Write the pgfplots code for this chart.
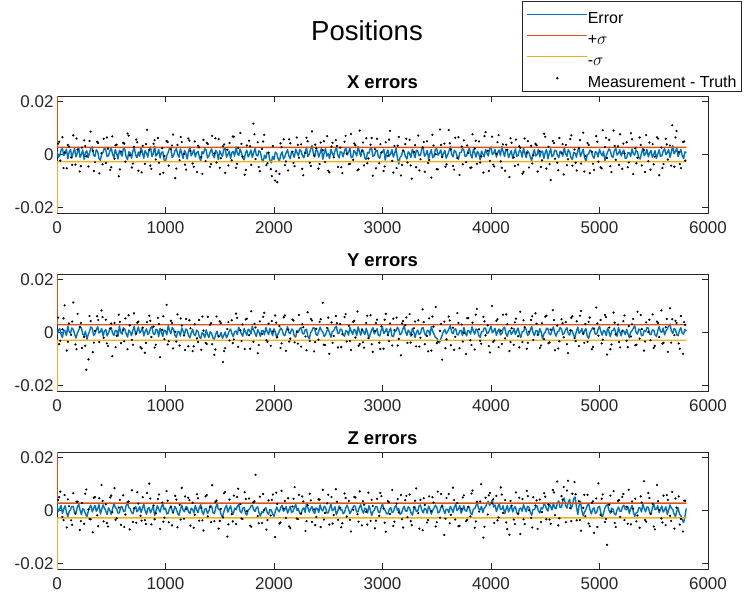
\documentclass[border=0pt]{standalone}
\usepackage{pgfplots}
\pgfplotsset{compat=1.18}
\usepackage{fontspec}
\setmainfont{Liberation Sans}
\definecolor{mblue}{rgb}{0,0.447,0.741}
\definecolor{morange}{rgb}{0.85,0.325,0.098}
\definecolor{myellow}{rgb}{0.929,0.694,0.125}
\definecolor{maxis}{rgb}{0.15,0.15,0.15}
\pgfplotsset{
 sub/.style={
  at={(57pt,#1)}, anchor=south west, scale only axis, width=651pt, height=117pt,
  xmin=0, xmax=6000, ymin=-22, ymax=22,
  xtick={0,1000,2000,3000,4000,5000,6000}, ytick={-20,0,20}, yticklabels={-0.02,0,0.02},
  tick align=inside, major tick length=6pt,
  axis line style={maxis, line width=0.6pt}, tick style={maxis, line width=0.6pt},
  ticklabel style={font=\fontsize{17}{19}\selectfont, text=maxis},
  /pgf/number format/assume math mode=true,
  /pgf/number format/set thousands separator={},
  scaled ticks=false,
  xticklabel style={yshift=-5pt},
  every axis title/.style={at={(0.5,1)}, anchor=base, yshift=7.7pt, font=\bfseries\fontsize{18.5}{21}\selectfont},
 },
 legimg/.style={legend image code/.code={\draw[mark repeat=2,mark phase=2,##1] plot coordinates {(0pt,0pt)(30pt,0pt)(60pt,0pt)};}},
}
\begin{document}
\begin{tikzpicture}
\path[use as bounding box] (0pt,0pt) rectangle (748pt,598pt);
\node[anchor=base, font=\fontsize{27.5}{30}\selectfont, text=black] at (367pt,557pt) {Positions};
% ---------------- X ----------------
\begin{axis}[sub=385pt, title={X errors}]
\addplot[color=mblue, line width=1.4pt, line join=round] coordinates {
(0,1.2)(12,-1.0)(25,-0.5)(37,1.6)(50,2.3)(62,-0.4)(75,0.4)(87,2.0)(100,-1.6)(112,0.9)(125,1.9)(137,-1.3)(150,0.8)(162,2.2)(175,-0.9)(187,0.5)(200,2.7)(212,-1.1)(225,0.1)(237,1.7)
(250,-1.8)(262,0.6)(275,1.4)(287,-1.2)(300,0.6)(312,2.4)(325,2.9)(337,-0.3)(350,-0.7)(362,1.8)(375,1.1)(387,-1.5)(400,-2.2)(412,0.2)(425,0.9)(437,2.5)(450,1.7)(462,-0.8)(475,-0.4)(487,1.3)
(500,2.4)(512,0.1)(525,-1.1)(537,1.9)(550,0.3)(562,-1.7)(575,1.6)(587,0.4)(600,-0.6)(612,2.3)(625,2.0)(637,-0.9)(650,-1.9)(662,1.0)(675,0.7)(687,-1.4)(700,1.3)(712,2.6)(725,-0.2)(737,-1.2)
(750,0.9)(762,-0.7)(775,2.6)(787,0.8)(800,-1.4)(812,1.5)(825,0.5)(837,-1.0)(850,1.8)(862,2.8)(875,-0.8)(887,0.3)(900,3.1)(912,-0.6)(925,0.2)(937,1.9)(950,-1.3)(962,0.7)(975,1.0)(987,-2.0)
(1000,-2.6)(1012,-0.4)(1025,0.8)(1037,2.4)(1050,1.9)(1062,-1.1)(1075,-0.3)(1087,1.4)(1100,2.2)(1112,0.0)(1125,-1.0)(1137,2.1)(1150,0.4)(1162,-1.5)(1175,1.5)(1187,0.6)(1200,-1.7)(1212,1.2)(1225,2.8)(1237,-0.5)
(1250,0.6)(1262,1.8)(1275,-0.9)(1287,0.7)(1300,1.2)(1312,-0.8)(1325,-2.4)(1337,1.1)(1350,0.3)(1362,2.2)(1375,1.7)(1387,-1.3)(1400,-0.5)(1412,0.9)(1425,2.1)(1437,-0.2)(1450,-1.2)(1462,1.6)(1475,0.8)(1487,-1.9)
(1500,1.4)(1512,0.2)(1525,-0.7)(1537,1.9)(1550,2.5)(1562,-1.0)(1575,0.0)(1587,1.3)(1600,-1.5)(1612,0.8)(1625,1.1)(1637,-0.6)(1650,2.9)(1662,0.4)(1675,-0.4)(1687,2.0)(1700,0.7)(1712,-1.3)(1725,-2.0)(1737,0.5)
(1750,1.6)(1762,-0.9)(1775,0.2)(1787,1.7)(1800,-1.1)(1812,0.6)(1825,2.3)(1837,-0.2)(1850,-0.6)(1862,1.4)(1875,0.9)(1887,-1.8)(1900,-2.8)(1912,-0.3)(1925,-1.4)(1937,0.8)(1950,0.5)(1962,-2.1)(1975,-3.2)(1987,-0.7)
(2000,-1.9)(2012,0.9)(2025,0.4)(2037,-1.4)(2050,-2.5)(2062,-0.2)(2075,1.0)(2087,-1.7)(2100,-0.8)(2112,0.6)(2125,1.8)(2137,-0.5)(2150,-1.6)(2162,1.2)(2175,0.3)(2187,-1.1)(2200,2.0)(2212,0.7)(2225,-0.5)(2237,1.9)
(2250,1.3)(2262,-0.4)(2275,-1.2)(2287,1.0)(2300,2.6)(2312,-0.8)(2325,0.1)(2337,2.0)(2350,3.4)(2362,0.6)(2375,-0.9)(2387,1.7)(2400,1.5)(2412,-1.0)(2425,0.6)(2437,2.3)(2450,-1.8)(2462,0.4)(2475,2.2)(2487,-0.6)
(2500,0.3)(2512,-1.5)(2525,1.9)(2537,0.5)(2550,-0.6)(2562,1.4)(2575,2.7)(2587,-0.1)(2600,-1.3)(2612,1.1)(2625,0.8)(2637,-0.9)(2650,1.4)(2662,2.5)(2675,-0.2)(2687,0.9)(2700,2.4)(2712,-1.2)(2725,-1.0)(2737,1.5)
(2750,0.7)(2762,-0.5)(2775,3.0)(2787,1.1)(2800,-0.8)(2812,1.9)(2825,1.2)(2837,-1.3)(2850,-1.9)(2862,0.8)(2875,0.5)(2887,2.2)(2900,2.1)(2912,-0.7)(2925,-0.4)(2937,1.3)(2950,1.6)(2962,-0.9)(2975,-1.4)(2987,0.6)
(3000,0.9)(3012,2.0)(3025,-2.1)(3037,0.3)(3050,1.7)(3062,-0.6)(3075,0.2)(3087,1.8)(3100,-1.0)(3112,0.5)(3125,2.3)(3137,-1.2)(3150,-3.6)(3162,-1.0)(3175,-0.5)(3187,1.4)(3200,1.1)(3212,-0.8)(3225,-1.7)(3237,1.0)
(3250,0.4)(3262,-1.1)(3275,2.0)(3287,0.6)(3300,-1.2)(3312,1.6)(3325,1.3)(3337,-0.5)(3350,-0.3)(3362,2.2)(3375,2.6)(3387,-0.7)(3400,0.1)(3412,1.5)(3425,-1.6)(3437,0.3)(3450,1.8)(3462,-1.2)(3475,-0.7)(3487,1.9)
(3500,2.2)(3512,-0.3)(3525,0.6)(3537,1.7)(3550,-1.1)(3562,0.4)(3575,1.5)(3587,-1.4)(3600,-0.2)(3612,1.2)(3625,2.9)(3637,0.1)(3650,-0.9)(3662,1.6)(3675,1.0)(3687,-0.6)(3700,-1.8)(3712,0.7)(3725,0.8)(3737,2.3)
(3750,1.6)(3762,-0.8)(3775,-0.4)(3787,1.1)(3800,2.4)(3812,0.0)(3825,-1.3)(3837,1.8)(3850,0.7)(3862,-1.0)(3875,1.2)(3887,0.4)(3900,-2.0)(3912,1.3)(3925,0.3)(3937,-0.9)(3950,1.9)(3962,0.6)(3975,-0.6)(3987,2.1)
(4000,2.8)(4012,0.0)(4025,0.5)(4037,1.9)(4050,-1.0)(4062,0.8)(4075,1.7)(4087,-0.5)(4100,3.0)(4112,1.1)(4125,-0.8)(4137,2.0)(4150,1.4)(4162,-1.2)(4175,0.2)(4187,1.5)(4200,-1.5)(4212,0.3)(4225,2.1)(4237,-0.7)
(4250,-0.3)(4262,1.7)(4275,1.1)(4287,-1.0)(4300,2.5)(4312,0.5)(4325,-1.2)(4337,1.4)(4350,0.6)(4362,-0.9)(4375,-2.3)(4387,0.2)(4400,1.8)(4412,-0.6)(4425,0.0)(4437,2.0)(4450,-0.9)(4462,0.8)(4475,1.3)(4487,-1.5)
(4500,0.8)(4512,1.9)(4525,-1.6)(4537,0.4)(4550,2.2)(4562,-0.8)(4575,-0.4)(4587,1.6)(4600,1.5)(4612,-0.3)(4625,-1.1)(4637,1.2)(4650,0.9)(4662,-0.7)(4675,2.7)(4687,0.3)(4700,-0.7)(4712,1.8)(4725,1.0)(4737,-1.2)
(4750,-1.9)(4762,0.8)(4775,0.5)(4787,-1.0)(4800,1.6)(4812,2.3)(4825,-0.8)(4837,0.6)(4850,2.0)(4862,-1.1)(4875,-2.6)(4887,0.0)(4900,0.2)(4912,1.7)(4925,1.2)(4937,-0.6)(4950,-1.4)(4962,1.1)(4975,0.7)(4987,-0.9)
(5000,1.9)(5012,0.5)(5025,-0.5)(5037,1.2)(5050,-2.4)(5062,-0.4)(5075,0.9)(5087,2.1)(5100,1.4)(5112,-0.7)(5125,-1.0)(5137,1.5)(5150,2.3)(5162,-0.2)(5175,0.4)(5187,1.8)(5200,-0.6)(5212,0.9)(5225,1.7)(5237,-1.5)
(5250,-1.3)(5262,0.7)(5275,0.6)(5287,-0.8)(5300,2.1)(5312,0.3)(5325,-0.2)(5337,1.6)(5350,1.0)(5362,-1.2)(5375,-1.7)(5387,0.5)(5400,2.6)(5412,-0.4)(5425,0.3)(5437,1.9)(5450,-0.9)(5462,0.6)(5475,1.5)(5487,-1.1)
(5500,0.1)(5512,1.4)(5525,-1.4)(5537,0.2)(5550,1.8)(5562,-0.7)(5575,-0.5)(5587,1.3)(5600,2.2)(5612,-0.1)(5625,0.7)(5637,1.9)(5650,-1.1)(5662,0.9)(5675,3.3)(5687,0.2)(5700,1.2)(5712,2.4)(5725,-0.8)(5737,0.6)
(5750,1.9)(5762,-0.3)(5775,-1.6)(5787,1.0)(5800,0.6)};
\addplot[color=morange, line width=1.4pt] coordinates {(0,30)(3,2.7)(5800,2.7)};
\addplot[color=myellow, line width=1.4pt] coordinates {(0,-30)(3,-2.7)(5800,-2.7)};
\addplot[only marks, mark=*, mark size=0.9pt, color=black] coordinates {
(10,4.1)(30,-2.3)(50,6.5)(70,0.8)(90,-5.2)(110,3.0)(130,-1.1)(150,7.2)(170,-3.8)(190,1.9)
(210,-6.4)(230,2.6)(250,5.3)(270,-0.7)(290,-4.5)(310,8.6)(330,1.4)(350,-2.9)(370,4.8)(390,-7.1)
(410,0.5)(430,5.9)(450,-3.2)(470,2.2)(490,-5.8)(510,6.8)(530,-1.6)(550,3.7)(570,-8.2)(590,1.1)
(610,4.4)(630,-2.7)(650,7.9)(670,-0.3)(690,-4.9)(710,2.9)(730,5.6)(750,-6.1)(770,0.9)(790,3.3)
(810,-3.5)(830,9.3)(850,1.7)(870,-5.4)(890,4.0)(910,-1.9)(930,6.2)(950,-7.4)(970,2.4)(990,-0.6)
(1010,5.1)(1030,-4.2)(1050,2.0)(1070,7.5)(1090,-8.9)(1110,3.6)(1130,-2.1)(1150,4.7)(1170,0.2)(1190,-5.7)
(1210,6.0)(1230,1.3)(1250,-3.4)(1270,4.9)(1290,-6.6)(1310,2.7)(1330,-0.9)(1350,5.5)(1370,-2.5)(1390,3.9)
(1410,-4.6)(1430,7.0)(1450,0.4)(1470,-3.0)(1490,5.8)(1510,-1.4)(1530,3.1)(1550,-6.9)(1570,1.8)(1590,4.3)
(1610,-2.2)(1630,6.7)(1650,-5.0)(1670,2.5)(1690,8.1)(1710,-0.8)(1730,-7.6)(1750,3.4)(1770,5.2)(1790,-3.9)
(1810,11.6)(1830,-1.7)(1850,4.6)(1870,-6.3)(1890,2.1)(1910,7.4)(1930,-4.0)(1950,0.7)(1970,-5.5)(1990,3.2)
(2010,-9.8)(2030,-10.4)(2050,-7.3)(2070,2.8)(2090,5.7)(2110,-2.6)(2130,-6.0)(2150,4.2)(2170,1.0)(2190,-4.4)
(2210,6.4)(2230,-1.2)(2250,3.8)(2270,-7.8)(2290,0.6)(2310,5.0)(2330,-3.1)(2350,8.7)(2370,-0.4)(2390,2.3)
(2410,-5.3)(2430,4.5)(2450,1.6)(2470,-2.8)(2490,6.9)(2510,-6.7)(2530,3.0)(2550,-1.0)(2570,5.4)(2590,-4.7)
(2610,2.6)(2630,-7.0)(2650,4.8)(2670,0.3)(2690,-3.6)(2710,7.7)(2730,-2.0)(2750,3.5)(2770,-5.9)(2790,9.0)
(2810,1.2)(2830,-4.1)(2850,6.1)(2870,-1.5)(2890,3.7)(2910,-8.0)(2930,2.0)(2950,5.9)(2970,-3.3)(2990,0.8)
(3010,-6.2)(3030,4.6)(3050,-0.5)(3070,8.9)(3090,-2.4)(3110,3.2)(3130,-5.1)(3150,6.6)(3170,-7.9)(3190,1.5)
(3210,3.9)(3230,-3.0)(3250,5.5)(3270,-9.1)(3290,0.9)(3310,-4.8)(3330,7.1)(3350,-1.8)(3370,2.7)(3390,-6.5)
(3410,5.0)(3430,-2.1)(3450,-8.7)(3470,3.4)(3490,0.1)(3510,-5.6)(3530,9.4)(3550,-0.9)(3570,4.1)(3590,-3.7)
(3610,9.2)(3630,1.9)(3650,-4.3)(3670,6.3)(3690,-1.3)(3710,-7.7)(3730,3.0)(3750,5.3)(3770,-2.9)(3790,0.6)
(3810,-5.0)(3830,7.6)(3850,2.2)(3870,-3.5)(3890,4.9)(3910,-0.7)(3930,-6.8)(3950,8.4)(3970,1.4)(3990,-2.4)
(4010,6.7)(4030,-4.5)(4050,0.2)(4070,7.3)(4090,-2.6)(4110,3.8)(4130,-6.1)(4150,1.8)(4170,-8.5)(4190,4.4)
(4210,-1.1)(4230,5.6)(4250,-3.8)(4270,2.5)(4290,-7.2)(4310,6.0)(4330,0.7)(4350,-4.9)(4370,3.3)(4390,-0.3)
(4410,4.0)(4430,-6.4)(4450,1.2)(4470,-2.2)(4490,7.8)(4510,-5.3)(4530,2.9)(4550,-9.6)(4570,5.1)(4590,-1.6)
(4610,-3.1)(4630,6.2)(4650,0.5)(4670,-7.5)(4690,3.6)(4710,-1.8)(4730,5.8)(4750,-4.2)(4770,1.9)(4790,-6.0)
(4810,2.4)(4830,-3.4)(4850,8.2)(4870,-0.6)(4890,4.3)(4910,-7.0)(4930,1.0)(4950,-5.8)(4970,6.9)(4990,-2.7)
(5010,-4.8)(5030,9.1)(5050,2.8)(5070,-1.3)(5090,5.5)(5110,-6.6)(5130,9.0)(5150,-2.0)(5170,3.1)(5190,7.6)
(5210,-5.4)(5230,0.4)(5250,4.6)(5270,-3.0)(5290,8.0)(5310,-7.4)(5330,2.3)(5350,-1.2)(5370,6.4)(5390,-4.1)
(5410,1.7)(5430,7.3)(5450,-2.5)(5470,-5.7)(5490,3.9)(5510,-0.8)(5530,6.5)(5550,-7.8)(5570,2.6)(5590,-3.6)
(5610,5.9)(5630,-1.9)(5650,3.4)(5670,11.0)(5690,-4.6)(5710,8.8)(5730,0.9)(5750,-5.1)(5770,4.7)(5790,-2.3)
(20,4.8)(60,-5.1)(100,3.6)(140,-3.9)(180,6.0)(220,-4.4)(260,3.2)(300,5.1)(340,-6.2)(380,4.3)
(420,-3.7)(460,6.4)(500,-4.8)(540,3.5)(580,-5.6)(620,4.1)(660,7.1)(700,-3.4)(740,4.6)(780,-6.7)
(820,3.9)(860,-4.2)(900,5.4)(940,-3.1)(980,-6.9)(1020,4.7)(1060,3.4)(1100,-5.3)(1140,6.6)(1180,-3.8)
(1220,5.2)(1260,-4.6)(1300,3.3)(1340,-7.3)(1380,4.4)(1420,-3.6)(1460,6.1)(1500,-5.0)(1540,3.8)(1580,-4.1)
(1620,6.8)(1660,-3.5)(1700,4.0)(1740,-5.8)(1780,3.1)(1820,7.6)(1860,-4.7)(1900,4.9)(1940,-3.3)(1980,-8.1)
(2020,-6.3)(2060,4.2)(2100,-4.0)(2140,5.7)(2180,-3.2)(2220,3.6)(2260,-5.4)(2300,6.3)(2340,-4.3)(2380,3.7)
(2420,-3.6)(2460,5.0)(2500,-6.1)(2540,4.4)(2580,3.2)(2620,-4.8)(2660,7.0)(2700,-3.5)(2740,4.1)(2780,-5.6)
(2820,4.5)(2860,-3.3)(2900,6.2)(2940,-5.2)(2980,3.9)(3020,-4.5)(3060,5.6)(3100,-6.8)(3140,3.3)(3180,-3.9)
(3220,5.9)(3260,-4.1)(3300,3.5)(3340,-6.0)(3380,4.7)(3420,-3.2)(3460,7.4)(3500,-5.5)(3540,3.6)(3580,-4.6)
(3620,4.2)(3660,-5.7)(3700,6.5)(3740,-3.7)(3780,3.4)(3820,-4.9)(3860,5.2)(3900,-3.0)(3940,6.9)(3980,-6.2)
(4020,-3.8)(4060,4.6)(4100,-5.0)(4140,3.7)(4180,6.1)(4220,-4.3)(4260,3.1)(4300,-6.5)(4340,5.0)(4380,-3.4)
(4420,3.5)(4460,-4.7)(4500,6.7)(4540,-3.6)(4580,4.3)(4620,-5.9)(4660,3.9)(4700,-4.0)(4740,7.2)(4780,-3.1)
(4820,5.4)(4860,-6.4)(4900,3.6)(4940,-3.5)(4980,4.8)(5020,-5.2)(5060,6.3)(5100,-4.4)(5140,3.2)(5180,-3.9)
(5220,4.1)(5260,-4.8)(5300,5.7)(5340,-3.3)(5380,3.6)(5420,-6.6)(5460,4.5)(5500,-3.7)(5540,6.0)(5580,-5.1)
(5620,3.8)(5660,-4.2)(5700,6.4)(5740,-3.6)(5780,4.9)};
\end{axis}
% ---------------- legend (belongs to the X panel) ----------------
\begin{axis}[sub=385pt, hide axis, legimg,
  legend style={at={(axis description cs:0.7143,1.812)}, anchor=north west, draw=maxis, line width=0.6pt,
    font=\fontsize{16}{18}\selectfont, inner xsep=4.5pt, inner ysep=4pt, row sep=3.3pt,
    nodes={inner sep=0pt, text height=18pt, text depth=0pt}},
  legend cell align=left]
\addlegendimage{color=mblue, line width=1pt}
\addlegendentry{Error}
\addlegendimage{color=morange, line width=1pt}
\addlegendentry{+$\sigma$}
\addlegendimage{color=myellow, line width=1pt}
\addlegendentry{-$\sigma$}
\addlegendimage{only marks, mark=*, mark size=0.9pt, color=black}
\addlegendentry{Measurement - Truth}
\end{axis}
% ---------------- Y ----------------
\begin{axis}[sub=207pt, title={Y errors}]
\addplot[color=mblue, line width=1.4pt, line join=round] coordinates {
(0,-0.8)(12,0.7)(25,1.5)(37,-0.6)(50,-1.9)(62,0.9)(75,0.6)(87,-1.2)(100,2.4)(112,0.3)(125,-0.3)(137,1.7)(150,1.2)(162,-0.5)(175,-2.1)(187,-0.4)(200,0.9)(212,2.0)(225,1.8)(237,-0.7)
(250,-1.0)(262,0.5)(275,-2.6)(287,-0.9)(300,0.4)(312,2.1)(325,1.6)(337,-1.1)(350,-0.5)(362,1.0)(375,2.2)(387,-0.2)(400,0.3)(412,1.5)(425,-1.4)(437,0.6)(450,1.1)(462,-1.3)(475,-0.2)(487,1.4)
(500,1.9)(512,-0.3)(525,-1.1)(537,0.8)(550,0.7)(562,-1.5)(575,2.5)(587,0.1)(600,-0.6)(612,1.8)(625,1.3)(637,-0.4)(650,-1.7)(662,0.9)(675,0.2)(687,-1.2)(700,1.0)(712,2.3)(725,-0.9)(737,0.4)
(750,2.1)(762,-0.2)(775,0.5)(787,1.8)(800,-1.3)(812,0.3)(825,1.4)(837,-0.8)(850,-0.1)(862,1.6)(875,2.3)(887,-0.5)(900,-0.8)(912,1.2)(925,0.9)(937,-1.6)(950,1.6)(962,0.2)(975,-1.5)(987,0.8)
(1000,0.6)(1012,-0.9)(1025,2.6)(1037,0.7)(1050,-0.4)(1062,1.9)(1075,1.1)(1087,-1.0)(1100,-1.8)(1112,0.4)(1125,0.3)(1137,-1.3)(1150,1.7)(1162,0.5)(1175,-0.7)(1187,1.3)(1200,0.8)(1212,-1.1)(1225,-2.0)(1237,-0.2)
(1250,1.2)(1262,-0.6)(1275,-1.2)(1287,0.9)(1300,0.4)(1312,-1.6)(1325,-2.3)(1337,-0.1)(1350,-0.6)(1362,-1.9)(1375,1.0)(1387,-0.7)(1400,-1.9)(1412,0.3)(1425,-0.3)(1437,-2.1)(1450,-2.5)(1462,-0.8)(1475,0.5)(1487,-1.7)
(1500,-1.4)(1512,0.0)(1525,-2.2)(1537,-1.1)(1550,0.2)(1562,-2.0)(1575,-0.9)(1587,0.6)(1600,1.3)(1612,-0.4)(1625,-1.6)(1637,0.3)(1650,0.6)(1662,-0.8)(1675,2.0)(1687,0.7)(1700,-0.5)(1712,-1.4)(1725,1.5)(1737,0.2)
(1750,-1.0)(1762,1.2)(1775,0.8)(1787,-0.6)(1800,2.4)(1812,0.9)(1825,-0.3)(1837,-1.5)(1850,1.1)(1862,0.1)(1875,-1.5)(1887,0.7)(1900,0.7)(1912,-0.9)(1925,1.9)(1937,0.4)(1950,-0.8)(1962,1.5)(1975,0.3)(1987,-1.2)
(2000,1.4)(2012,0.2)(2025,-2.0)(2037,-0.5)(2050,0.5)(2062,1.7)(2075,1.0)(2087,-0.8)(2100,-1.2)(2112,0.6)(2125,2.2)(2137,0.0)(2150,-0.4)(2162,1.3)(2175,0.9)(2187,-1.3)(2200,-1.7)(2212,0.8)(2225,0.1)(2237,1.5)
(2250,1.8)(2262,-0.3)(2275,-0.6)(2287,1.0)(2300,1.2)(2312,-1.4)(2325,-2.4)(2337,-0.2)(2350,0.7)(2362,1.9)(2375,1.5)(2387,-0.6)(2400,-1.1)(2412,0.5)(2425,2.0)(2437,0.8)(2450,0.2)(2462,-1.5)(2475,-0.9)(2487,0.6)
(2500,1.3)(2512,-0.2)(2525,-1.8)(2537,0.4)(2550,0.6)(2562,1.8)(2575,2.3)(2587,-0.4)(2600,-0.2)(2612,1.3)(2625,1.0)(2637,-0.9)(2650,-1.4)(2662,0.7)(2675,0.4)(2687,-1.0)(2700,1.9)(2712,0.5)(2725,-0.7)(2737,1.2)
(2750,0.8)(2762,-1.2)(2775,2.1)(2787,0.6)(2800,-1.0)(2812,1.4)(2825,0.3)(2837,-0.8)(2850,1.6)(2862,0.0)(2875,-2.2)(2887,-0.6)(2900,0.9)(2912,1.8)(2925,-0.5)(2937,0.6)(2950,1.4)(2962,-1.1)(2975,-1.3)(2987,0.7)
(3000,2.0)(3012,-0.4)(3025,0.4)(3037,1.5)(3050,-0.8)(3062,0.5)(3075,1.7)(3087,-1.3)(3100,-1.6)(3112,0.2)(3125,0.6)(3137,2.0)(3150,1.1)(3162,-0.9)(3175,-0.3)(3187,1.2)(3200,2.5)(3212,0.3)(3225,-1.1)(3237,0.9)
(3250,0.2)(3262,-1.4)(3275,1.5)(3287,0.4)(3300,-1.9)(3312,0.1)(3325,0.9)(3337,-0.7)(3350,-0.4)(3362,1.6)(3375,1.8)(3387,-0.3)(3400,-1.2)(3412,0.8)(3425,0.7)(3437,-1.0)(3450,2.2)(3462,0.5)(3475,-0.6)(3487,-1.8)
(3500,-2.1)(3512,-3.0)(3525,-3.9)(3537,-2.4)(3550,-1.0)(3562,0.4)(3575,1.2)(3587,-0.5)(3600,0.3)(3612,1.4)(3625,2.6)(3637,0.2)(3650,-0.5)(3662,1.1)(3675,1.4)(3687,-0.8)(3700,-0.9)(3712,0.6)(3725,0.8)(3737,-1.2)
(3750,1.9)(3762,0.1)(3775,-1.3)(3787,0.7)(3800,0.5)(3812,-0.6)(3825,2.1)(3837,0.6)(3850,-0.7)(3862,1.3)(3875,1.0)(3887,-1.1)(3900,-1.8)(3912,0.2)(3925,0.3)(3937,1.7)(3950,1.6)(3962,-0.4)(3975,-0.2)(3987,1.1)
(4000,2.4)(4012,-0.1)(4025,0.6)(4037,1.6)(4050,-1.1)(4062,0.5)(4075,1.3)(4087,-0.9)(4100,-0.4)(4112,1.4)(4125,2.0)(4137,-0.2)(4150,-1.5)(4162,0.4)(4175,0.9)(4187,-0.7)(4200,0.1)(4212,1.5)(4225,-0.8)(4237,0.6)
(4250,1.7)(4262,-0.5)(4275,-1.9)(4287,0.3)(4300,0.4)(4312,1.8)(4325,1.1)(4337,-1.2)(4350,-0.6)(4362,0.9)(4375,2.3)(4387,0.0)(4400,-1.2)(4412,0.7)(4425,0.7)(4437,-0.9)(4450,1.5)(4462,0.2)(4475,-2.4)(4487,-0.6)
(4500,0.2)(4512,1.6)(4525,1.4)(4537,-0.5)(4550,-0.9)(4562,0.8)(4575,2.1)(4587,-0.2)(4600,-1.4)(4612,0.3)(4625,0.5)(4637,1.9)(4650,1.2)(4662,-0.8)(4675,-0.3)(4687,1.0)(4700,1.8)(4712,-0.4)(4725,-1.0)(4737,0.9)
(4750,0.6)(4762,-1.1)(4775,-1.7)(4787,0.4)(4800,2.0)(4812,-0.3)(4825,0.3)(4837,1.5)(4850,-0.8)(4862,0.6)(4875,1.5)(4887,-1.3)(4900,-2.2)(4912,0.0)(4925,0.9)(4937,1.8)(4950,1.1)(4962,-0.7)(4975,-0.5)(4987,1.2)
(5000,2.3)(5012,0.4)(5025,-1.0)(5037,0.8)(5050,0.4)(5062,-1.2)(5075,1.6)(5087,0.2)(5100,-1.6)(5112,0.5)(5125,0.8)(5137,1.7)(5150,-0.2)(5162,-1.4)(5175,1.9)(5187,0.3)(5200,-1.3)(5212,0.9)(5225,0.5)(5237,-0.8)
(5250,1.2)(5262,-0.4)(5275,-2.0)(5287,0.1)(5300,0.7)(5312,1.6)(5325,2.5)(5337,0.0)(5350,-0.6)(5362,1.3)(5375,1.0)(5387,-1.2)(5400,-1.1)(5412,0.8)(5425,0.3)(5437,1.8)(5450,1.7)(5462,-0.6)(5475,-0.8)(5487,1.0)
(5500,0.9)(5512,-0.9)(5525,-1.5)(5537,0.6)(5550,2.2)(5562,0.4)(5575,0.1)(5587,1.7)(5600,-0.9)(5612,0.5)(5625,1.4)(5637,2.4)(5650,3.2)(5662,0.7)(5675,-0.4)(5687,1.5)(5700,1.1)(5712,-0.9)(5725,-1.2)(5737,0.8)
(5750,1.8)(5762,-0.2)(5775,-0.6)(5787,1.2)(5800,0.5)};
\addplot[color=morange, line width=1.4pt] coordinates {(0,30)(3,2.9)(5800,2.9)};
\addplot[color=myellow, line width=1.4pt] coordinates {(0,-30)(3,-2.9)(5800,-2.9)};
\addplot[only marks, mark=*, mark size=0.9pt, color=black] coordinates {
(10,5.6)(30,-3.1)(50,1.2)(70,10.2)(90,-6.8)(110,3.4)(130,-0.9)(150,11.3)(170,-4.5)(190,7.0)
(210,2.1)(230,-5.8)(250,-1.6)(270,-14.0)(290,-10.1)(310,4.3)(330,-7.4)(350,0.6)(370,6.1)(390,-3.6)
(410,8.3)(430,-2.0)(450,4.8)(470,-5.1)(490,1.5)(510,-8.9)(530,3.6)(550,-1.2)(570,6.7)(590,-4.0)
(610,0.9)(630,5.3)(650,-6.3)(670,2.7)(690,-2.8)(710,7.2)(730,-0.4)(750,4.1)(770,-5.5)(790,1.8)
(810,-7.6)(830,3.9)(850,6.3)(870,-1.7)(890,2.2)(910,-4.6)(930,5.5)(950,-9.3)(970,1.0)(990,-2.5)
(1010,10.4)(1030,-3.3)(1050,4.4)(1070,-6.0)(1090,0.3)(1110,6.8)(1130,-4.9)(1150,2.6)(1170,-1.1)(1190,5.1)
(1210,-5.2)(1230,1.6)(1250,-7.0)(1270,3.1)(1290,-2.2)(1310,4.7)(1330,-6.5)(1350,0.7)(1370,-3.9)(1390,5.9)
(1410,2.9)(1430,-4.4)(1450,-8.4)(1470,6.0)(1490,-1.4)(1510,3.5)(1530,-11.1)(1550,-5.9)(1570,1.3)(1590,-3.0)
(1610,4.6)(1630,-2.6)(1650,7.1)(1670,-5.4)(1690,0.8)(1710,3.0)(1730,-6.2)(1750,5.2)(1770,-1.0)(1790,8.0)
(1810,-3.5)(1830,1.9)(1850,-7.8)(1870,4.2)(1890,-0.5)(1910,7.4)(1930,-2.9)(1950,3.3)(1970,-5.0)(1990,0.4)
(2010,6.4)(2030,-1.8)(2050,2.4)(2070,-4.1)(2090,5.7)(2110,-6.9)(2130,1.1)(2150,-2.3)(2170,4.9)(2190,-3.7)
(2210,0.2)(2230,6.6)(2250,-5.3)(2270,2.0)(2290,-1.5)(2310,7.6)(2330,-3.2)(2350,4.5)(2370,-7.1)(2390,1.4)
(2410,-2.7)(2430,5.0)(2450,11.2)(2470,-4.7)(2490,1.7)(2510,-8.0)(2530,3.8)(2550,-1.3)(2570,6.2)(2590,-5.6)
(2610,3.2)(2630,-0.6)(2650,5.8)(2670,-3.4)(2690,2.5)(2710,-6.6)(2730,4.0)(2750,-1.9)(2770,7.9)(2790,-4.3)
(2810,1.0)(2830,-5.7)(2850,3.6)(2870,-2.1)(2890,6.5)(2910,-7.3)(2930,0.5)(2950,4.8)(2970,-3.8)(2990,2.3)
(3010,-6.1)(3030,7.0)(3050,-1.0)(3070,3.4)(3090,-4.9)(3110,0.9)(3130,5.6)(3150,-2.4)(3170,-8.6)(3190,4.3)
(3210,2.8)(3230,-3.9)(3250,6.9)(3270,-0.8)(3290,1.6)(3310,-5.2)(3330,4.6)(3350,-2.0)(3370,8.7)(3390,-4.4)
(3410,-1.3)(3430,5.3)(3450,-6.8)(3470,2.2)(3490,9.6)(3510,-3.5)(3530,0.6)(3550,-10.2)(3570,4.1)(3590,-2.6)
(3610,6.0)(3630,-4.8)(3650,1.8)(3670,-1.6)(3690,7.3)(3710,-5.9)(3730,3.0)(3750,-0.2)(3770,-8.1)(3790,5.4)
(3810,-2.9)(3830,3.7)(3850,-6.4)(3870,8.9)(3890,1.2)(3910,-4.2)(3930,5.9)(3950,-1.1)(3970,2.7)(3990,-7.5)
(4010,10.0)(4030,-3.0)(4050,4.4)(4070,-5.5)(4090,0.7)(4110,6.7)(4130,-2.2)(4150,3.1)(4170,-7.0)(4190,1.6)
(4210,-4.6)(4230,5.2)(4250,-1.4)(4270,7.8)(4290,-3.6)(4310,2.0)(4330,-6.1)(4350,0.3)(4370,4.7)(4390,-2.8)
(4410,7.2)(4430,-0.9)(4450,-5.8)(4470,3.5)(4490,-2.5)(4510,6.3)(4530,-4.0)(4550,1.1)(4570,8.4)(4590,-6.7)
(4610,2.6)(4630,-3.3)(4650,5.0)(4670,-1.8)(4690,3.9)(4710,-7.7)(4730,0.8)(4750,6.1)(4770,-2.1)(4790,4.2)
(4810,-5.1)(4830,8.1)(4850,-0.4)(4870,3.2)(4890,-3.5)(4910,5.6)(4930,-6.3)(4950,1.5)(4970,9.4)(4990,-1.2)
(5010,4.7)(5030,-2.7)(5050,6.6)(5070,-8.3)(5090,1.9)(5110,-4.5)(5130,7.5)(5150,-0.7)(5170,3.0)(5190,-5.6)
(5210,0.5)(5230,6.4)(5250,-3.1)(5270,2.4)(5290,-1.5)(5310,5.1)(5330,-4.8)(5350,7.8)(5370,-2.3)(5390,1.3)
(5410,-6.8)(5430,3.8)(5450,0.2)(5470,-2.9)(5490,6.8)(5510,-5.0)(5530,4.1)(5550,-1.7)(5570,8.3)(5590,-3.9)
(5610,2.0)(5630,-7.3)(5650,9.1)(5670,5.0)(5690,-1.0)(5710,3.6)(5730,-4.1)(5750,6.2)(5770,-8.0)(5790,2.9)
(20,-4.4)(60,5.3)(100,-3.5)(140,4.1)(180,-6.3)(220,3.6)(260,-5.0)(300,6.2)(340,-3.8)(380,4.7)
(420,5.8)(460,-4.1)(500,3.4)(540,-5.5)(580,4.0)(620,-3.3)(660,6.5)(700,-4.6)(740,3.7)(780,-6.0)
(820,-3.9)(860,4.4)(900,-5.7)(940,3.2)(980,6.1)(1020,-4.5)(1060,3.6)(1100,-3.4)(1140,5.3)(1180,-6.6)
(1220,4.6)(1260,-5.2)(1300,-3.6)(1340,6.0)(1380,-4.3)(1420,3.5)(1460,-6.4)(1500,4.2)(1540,-7.0)(1580,3.9)
(1620,-4.0)(1660,5.5)(1700,-3.2)(1740,4.9)(1780,-6.1)(1820,3.3)(1860,-4.7)(1900,5.9)(1940,-3.5)(1980,4.3)
(2020,3.7)(2060,-5.8)(2100,6.4)(2140,-3.4)(2180,4.5)(2220,-4.2)(2260,3.1)(2300,-6.7)(2340,5.1)(2380,-3.6)
(2420,4.0)(2460,-4.6)(2500,5.6)(2540,-3.9)(2580,3.5)(2620,-5.5)(2660,6.9)(2700,-3.2)(2740,4.4)(2780,-5.0)
(2820,-3.7)(2860,6.3)(2900,-4.4)(2940,3.6)(2980,-6.2)(3020,4.8)(3060,-3.3)(3100,5.2)(3140,-4.9)(3180,3.4)
(3220,5.7)(3260,-3.8)(3300,4.1)(3340,-5.3)(3380,3.9)(3420,-7.1)(3460,6.0)(3500,-4.0)(3540,3.2)(3580,-5.9)
(3620,4.5)(3660,-6.5)(3700,3.6)(3740,-3.4)(3780,5.4)(3820,-4.7)(3860,6.7)(3900,-3.1)(3940,4.2)(3980,-5.1)
(4020,-3.5)(4060,5.0)(4100,-4.3)(4140,6.8)(4180,-3.6)(4220,3.8)(4260,-5.6)(4300,4.6)(4340,-3.9)(4380,6.1)
(4420,3.3)(4460,-4.9)(4500,5.9)(4540,-3.7)(4580,4.7)(4620,-6.0)(4660,3.5)(4700,-4.4)(4740,5.5)(4780,-3.2)
(4820,6.3)(4860,-3.9)(4900,4.0)(4940,-5.4)(4980,3.4)(5020,-4.1)(5060,5.8)(5100,-6.3)(5140,3.7)(5180,-3.6)
(5220,4.3)(5260,-5.5)(5300,3.1)(5340,-4.6)(5380,6.6)(5420,-3.4)(5460,4.8)(5500,-5.8)(5540,3.6)(5580,-4.2)
(5620,5.1)(5660,-3.8)(5700,4.4)(5740,-6.1)(5780,3.9)};
\end{axis}
% ---------------- Z ----------------
\begin{axis}[sub=29pt, title={Z errors}]
\addplot[color=mblue, line width=1.4pt, line join=round] coordinates {
(0,2.0)(12,-0.3)(25,0.6)(37,1.9)(50,-1.1)(62,0.5)(75,1.8)(87,-0.6)(100,-2.3)(112,-0.4)(125,0.4)(137,1.6)(150,1.5)(162,-0.9)(175,-0.8)(187,1.2)(200,2.4)(212,0.3)(225,-1.6)(237,0.7)
(250,0.3)(262,-1.2)(275,-2.4)(287,-0.5)(300,1.2)(312,2.0)(325,-0.5)(337,0.8)(350,1.9)(362,-0.3)(375,0.8)(387,2.2)(400,-1.3)(412,0.4)(425,2.1)(437,0.9)(450,-0.2)(462,-1.5)(475,1.0)(487,0.1)
(500,-1.5)(512,0.6)(525,2.6)(537,1.2)(550,0.5)(562,-1.0)(575,-0.9)(587,1.3)(600,1.4)(612,-0.3)(625,-0.4)(637,1.8)(650,2.9)(662,1.0)(675,0.7)(687,-0.8)(700,-1.2)(712,0.6)(725,1.6)(737,-0.5)
(750,0.2)(762,1.5)(775,-0.7)(787,0.9)(800,2.3)(812,0.0)(825,-1.4)(837,0.7)(850,1.1)(862,-0.9)(875,0.4)(887,1.7)(900,-1.9)(912,-0.2)(925,1.8)(937,0.5)(950,-0.6)(962,1.3)(975,2.5)(987,0.3)
(1000,0.9)(1012,-1.3)(1025,-1.0)(1037,0.8)(1050,1.7)(1062,-0.2)(1075,-0.3)(1087,1.5)(1100,0.6)(1112,-1.1)(1125,-1.8)(1137,0.4)(1150,2.0)(1162,0.2)(1175,-0.5)(1187,1.4)(1200,1.3)(1212,-0.6)(1225,-1.1)(1237,0.9)
(1250,0.4)(1262,-0.9)(1275,1.9)(1287,0.3)(1300,-0.8)(1312,1.2)(1325,2.2)(1337,-0.4)(1350,-1.5)(1362,0.5)(1375,0.7)(1387,-1.1)(1400,-0.2)(1412,1.9)(1425,1.6)(1437,-0.7)(1450,-1.2)(1462,0.8)(1475,2.8)(1487,0.4)
(1500,0.5)(1512,-1.4)(1525,-2.6)(1537,-0.6)(1550,1.0)(1562,2.0)(1575,-0.6)(1587,0.6)(1600,1.8)(1612,-0.5)(1625,-1.3)(1637,0.9)(1650,0.3)(1662,1.5)(1675,2.4)(1687,-0.2)(1700,-0.9)(1712,0.8)(1725,1.2)(1737,-1.0)
(1750,-1.7)(1762,0.2)(1775,0.6)(1787,1.6)(1800,2.0)(1812,0.3)(1825,-0.4)(1837,1.0)(1850,1.4)(1862,-0.9)(1875,-2.1)(1887,-0.5)(1900,-0.8)(1912,0.6)(1925,1.1)(1937,-0.7)(1950,-1.5)(1962,0.4)(1975,0.2)(1987,-1.3)
(2000,-2.2)(2012,-0.4)(2025,1.3)(2037,0.1)(2050,-0.5)(2062,1.2)(2075,1.9)(2087,-0.3)(2100,0.4)(2112,1.5)(2125,-1.0)(2137,0.2)(2150,1.6)(2162,-0.8)(2175,-0.3)(2187,1.0)(2200,2.3)(2212,0.0)(2225,0.8)(2237,-1.1)
(2250,-1.4)(2262,0.5)(2275,1.0)(2287,-0.7)(2300,2.6)(2312,1.1)(2325,-0.6)(2337,0.7)(2350,1.5)(2362,-0.4)(2375,-1.1)(2387,0.9)(2400,0.7)(2412,-0.8)(2425,2.1)(2437,0.4)(2450,-0.2)(2462,1.6)(2475,1.2)(2487,-0.9)
(2500,-0.9)(2512,0.8)(2525,2.4)(2537,-0.1)(2550,0.3)(2562,1.4)(2575,-1.6)(2587,-0.3)(2600,1.7)(2612,0.2)(2625,0.5)(2637,-1.2)(2650,-0.7)(2662,1.1)(2675,2.0)(2687,0.5)(2700,-1.2)(2712,-0.2)(2725,0.9)(2737,1.8)
(2750,1.5)(2762,-0.6)(2775,-0.4)(2787,1.2)(2800,2.2)(2812,0.1)(2825,-1.0)(2837,0.9)(2850,0.6)(2862,-0.9)(2875,1.8)(2887,0.4)(2900,-1.9)(2912,-0.5)(2925,0.2)(2937,1.5)(2950,1.4)(2962,-0.6)(2975,-0.8)(2987,1.1)
(3000,2.5)(3012,0.6)(3025,0.1)(3037,-1.2)(3050,-1.3)(3062,0.4)(3075,1.1)(3087,-0.7)(3100,-0.5)(3112,1.3)(3125,1.9)(3137,0.0)(3150,0.7)(3162,-1.4)(3175,-1.1)(3187,0.6)(3200,1.6)(3212,-0.2)(3225,-0.3)(3237,1.4)
(3250,0.8)(3262,-0.8)(3275,-1.8)(3287,0.3)(3300,1.3)(3312,-0.4)(3325,-0.2)(3337,1.7)(3350,2.1)(3362,0.2)(3375,-0.9)(3387,0.8)(3400,0.5)(3412,-1.0)(3425,1.7)(3437,0.6)(3450,-1.4)(3462,0.1)(3475,0.9)(3487,2.0)
(3500,1.2)(3512,-0.9)(3525,-0.6)(3537,1.1)(3550,2.0)(3562,0.3)(3575,-1.2)(3587,0.5)(3600,0.4)(3612,-0.8)(3625,1.5)(3637,0.7)(3650,-0.7)(3662,1.3)(3675,2.3)(3687,-0.1)(3700,0.6)(3712,1.8)(3725,-1.0)(3737,0.2)
(3750,1.8)(3762,0.0)(3775,-0.3)(3787,1.4)(3800,1.1)(3812,-1.0)(3825,-1.6)(3837,0.5)(3850,0.7)(3862,2.0)(3875,2.4)(3887,0.6)(3900,0.2)(3912,1.6)(3925,-0.8)(3937,0.9)(3950,1.4)(3962,2.6)(3975,3.5)(3987,1.9)
(4000,2.8)(4012,4.0)(4025,1.3)(4037,2.1)(4050,-0.4)(4062,1.2)(4075,2.6)(4087,0.4)(4100,0.5)(4112,1.8)(4125,-1.2)(4137,0.3)(4150,1.9)(4162,-0.5)(4175,0.8)(4187,1.7)(4200,-0.6)(4212,0.9)(4225,1.5)(4237,-0.8)
(4250,-1.4)(4262,0.6)(4275,0.9)(4287,-0.3)(4300,2.2)(4312,0.7)(4325,-0.5)(4337,1.6)(4350,1.3)(4362,-0.6)(4375,-1.8)(4387,0.4)(4400,0.3)(4412,1.4)(4425,1.7)(4437,-0.2)(4450,-0.9)(4462,1.0)(4475,0.6)(4487,2.3)
(4500,2.1)(4512,0.5)(4525,-0.2)(4537,2.4)(4550,1.4)(4562,0.2)(4575,2.8)(4587,1.0)(4600,0.7)(4612,2.9)(4625,3.6)(4637,1.1)(4650,1.2)(4662,3.8)(4675,4.7)(4687,2.0)(4700,0.9)(4712,3.1)(4725,4.2)(4737,0.6)
(4750,1.8)(4762,4.4)(4775,5.1)(4787,1.5)(4800,-1.5)(4812,1.9)(4825,3.4)(4837,0.0)(4850,-2.0)(4862,-0.6)(4875,0.4)(4887,1.8)(4900,2.6)(4912,0.3)(4925,-1.3)(4937,0.5)(4950,1.0)(4962,-1.1)(4975,-0.6)(4987,1.2)
(5000,1.6)(5012,-0.8)(5025,-2.9)(5037,-1.0)(5050,0.8)(5062,1.9)(5075,2.2)(5087,0.1)(5100,-1.0)(5112,0.9)(5125,0.5)(5137,-1.3)(5150,-1.7)(5162,0.3)(5175,1.3)(5187,-0.2)(5200,-0.4)(5212,1.5)(5225,2.0)(5237,0.4)
(5250,0.3)(5262,1.4)(5275,-1.1)(5287,0.6)(5300,1.9)(5312,-0.6)(5325,-2.2)(5337,-0.9)(5350,-0.7)(5362,1.1)(5375,0.9)(5387,-0.5)(5400,2.4)(5412,0.8)(5425,-0.5)(5437,1.3)(5450,1.2)(5462,-0.8)(5475,-1.4)(5487,0.9)
(5500,2.6)(5512,0.3)(5525,0.6)(5537,1.8)(5550,-0.8)(5562,0.5)(5575,1.7)(5587,-0.6)(5600,0.2)(5612,1.4)(5625,-1.5)(5637,0.2)(5650,2.1)(5662,0.9)(5675,0.4)(5687,-1.2)(5700,-2.3)(5712,-0.3)(5725,1.0)(5737,-1.4)
(5750,-1.9)(5762,-3.4)(5775,-4.6)(5787,-2.5)(5800,0.8)};
\addplot[color=morange, line width=1.4pt] coordinates {(0,30)(3,2.8)(5800,2.8)};
\addplot[color=myellow, line width=1.4pt] coordinates {(0,-30)(3,-2.8)(5800,-2.8)};
\addplot[only marks, mark=*, mark size=0.9pt, color=black] coordinates {
(10,4.0)(30,7.1)(50,-2.4)(70,5.8)(90,-6.4)(110,1.6)(130,-3.7)(150,6.5)(170,-1.2)(190,3.3)
(210,-7.3)(230,2.8)(250,-5.0)(270,7.9)(290,0.4)(310,-3.3)(330,-8.2)(350,5.1)(370,-1.8)(390,4.6)
(410,9.6)(430,-4.1)(450,2.3)(470,-6.0)(490,4.9)(510,-0.6)(530,8.4)(550,-2.9)(570,1.1)(590,-5.4)
(610,5.7)(630,-1.5)(650,3.2)(670,-7.1)(690,7.6)(710,0.8)(730,-4.6)(750,2.6)(770,-2.0)(790,5.0)
(810,-3.6)(830,6.6)(850,10.1)(870,-5.2)(890,1.9)(910,-1.0)(930,4.3)(950,-6.9)(970,3.0)(990,-2.7)
(1010,7.3)(1030,-4.4)(1050,1.4)(1070,-0.8)(1090,5.5)(1110,-6.3)(1130,2.1)(1150,8.5)(1170,-3.1)(1190,0.5)
(1210,4.8)(1230,-5.7)(1250,2.9)(1270,-1.6)(1290,6.1)(1310,-3.8)(1330,0.9)(1350,-7.5)(1370,5.3)(1390,-2.2)
(1410,1.3)(1430,9.5)(1450,-4.0)(1470,3.7)(1490,-6.8)(1510,0.6)(1530,-2.6)(1550,7.0)(1570,-9.8)(1590,4.1)
(1610,-1.4)(1630,5.6)(1650,-5.1)(1670,8.2)(1690,2.4)(1710,-3.2)(1730,6.9)(1750,-0.3)(1770,4.5)(1790,-6.1)
(1810,3.1)(1830,13.4)(1850,-2.1)(1870,5.2)(1890,-4.7)(1910,0.2)(1930,-7.2)(1950,3.8)(1970,-1.9)(1990,6.0)
(2010,-10.0)(2030,2.5)(2050,-4.9)(2070,7.4)(2090,0.7)(2110,-2.8)(2130,4.6)(2150,-6.6)(2170,1.5)(2190,8.8)
(2210,-3.0)(2230,5.9)(2250,-1.1)(2270,3.4)(2290,-7.7)(2310,2.0)(2330,6.3)(2350,-4.3)(2370,0.4)(2390,-2.4)
(2410,4.2)(2430,-6.2)(2450,7.8)(2470,-0.9)(2490,2.7)(2510,-5.3)(2530,5.1)(2550,-1.7)(2570,8.0)(2590,-3.5)
(2610,1.0)(2630,-4.8)(2650,6.4)(2670,-2.3)(2690,3.6)(2710,-7.9)(2730,0.3)(2750,4.9)(2770,-1.4)(2790,7.2)
(2810,-5.6)(2830,2.2)(2850,-0.5)(2870,6.7)(2890,-3.9)(2910,1.7)(2930,-6.7)(2950,4.4)(2970,-2.0)(2990,5.4)
(3010,0.8)(3030,-8.0)(3050,3.5)(3070,-1.3)(3090,7.7)(3110,-4.2)(3130,2.6)(3150,-0.7)(3170,5.8)(3190,-6.4)
(3210,3.9)(3230,-2.5)(3250,6.0)(3270,-5.5)(3290,1.2)(3310,8.3)(3330,-1.0)(3350,4.0)(3370,-7.4)(3390,2.1)
(3410,-4.5)(3430,5.3)(3450,-0.2)(3470,3.0)(3490,-6.0)(3510,7.1)(3530,-2.7)(3550,1.6)(3570,-9.2)(3590,4.7)
(3610,6.2)(3630,-1.6)(3650,8.6)(3670,-3.4)(3690,2.8)(3710,-5.8)(3730,0.6)(3750,5.7)(3770,-4.0)(3790,1.4)
(3810,-2.2)(3830,7.5)(3850,-6.5)(3870,3.3)(3890,-0.4)(3910,9.9)(3930,-10.2)(3950,4.8)(3970,-1.5)(3990,6.6)
(4010,2.7)(4030,-4.7)(4050,5.5)(4070,-2.6)(4090,8.7)(4110,-0.9)(4130,3.9)(4150,-7.0)(4170,-9.1)(4190,1.8)
(4210,-3.4)(4230,6.8)(4250,-1.2)(4270,-8.8)(4290,4.3)(4310,-5.1)(4330,7.4)(4350,0.1)(4370,-2.8)(4390,5.0)
(4410,1.9)(4430,-6.9)(4450,4.1)(4470,-0.6)(4490,6.5)(4510,-3.3)(4530,2.3)(4550,-5.0)(4570,7.7)(4590,-1.8)
(4610,10.9)(4630,-2.9)(4650,5.4)(4670,8.8)(4690,-4.4)(4710,11.2)(4730,0.9)(4750,6.3)(4770,10.7)(4790,-3.7)
(4810,3.5)(4830,-7.6)(4850,1.0)(4870,-2.1)(4890,5.9)(4910,-5.9)(4930,2.9)(4950,-8.4)(4970,4.5)(4990,10.2)
(5010,-1.7)(5030,6.0)(5050,-4.3)(5070,-12.9)(5090,2.2)(5110,-0.4)(5130,7.3)(5150,-6.2)(5170,3.6)(5190,-2.4)
(5210,5.1)(5230,-3.6)(5250,1.4)(5270,7.8)(5290,-5.2)(5310,0.7)(5330,4.4)(5350,-1.9)(5370,-6.5)(5390,3.0)
(5410,11.0)(5430,-4.2)(5450,6.6)(5470,-1.3)(5490,2.5)(5510,-7.1)(5530,9.6)(5550,0.2)(5570,-3.0)(5590,5.6)
(5610,-5.5)(5630,4.0)(5650,-2.0)(5670,7.0)(5690,-6.8)(5710,1.1)(5730,5.3)(5750,-3.2)(5770,-7.9)(5790,3.7)
(20,5.0)(60,-3.6)(100,4.2)(140,-5.4)(180,3.3)(220,-4.0)(260,6.3)(300,-3.2)(340,4.8)(380,-5.9)
(420,3.6)(460,-4.7)(500,5.6)(540,-3.5)(580,4.0)(620,-6.2)(660,3.4)(700,-4.3)(740,6.9)(780,-3.8)
(820,-5.1)(860,4.5)(900,-3.3)(940,6.0)(980,-4.2)(1020,3.7)(1060,-5.6)(1100,4.1)(1140,-3.4)(1180,5.3)
(1220,3.9)(1260,-6.5)(1300,4.6)(1340,-3.7)(1380,5.8)(1420,-4.4)(1460,3.2)(1500,-3.9)(1540,6.5)(1580,-5.2)
(1620,-4.1)(1660,5.1)(1700,-3.0)(1740,4.3)(1780,-5.7)(1820,3.5)(1860,-4.8)(1900,6.2)(1940,-3.6)(1980,4.0)
(2020,6.7)(2060,-4.5)(2100,3.6)(2140,-6.0)(2180,4.4)(2220,-3.2)(2260,5.3)(2300,-4.0)(2340,3.8)(2380,-5.5)
(2420,4.1)(2460,-3.4)(2500,5.9)(2540,-4.9)(2580,3.3)(2620,-6.3)(2660,4.7)(2700,-3.5)(2740,5.1)(2780,-4.2)
(2820,3.5)(2860,-5.3)(2900,4.0)(2940,-3.8)(2980,6.6)(3020,-4.6)(3060,3.1)(3100,-5.8)(3140,4.3)(3180,-3.3)
(3220,5.5)(3260,-4.0)(3300,3.7)(3340,-6.8)(3380,4.6)(3420,-3.6)(3460,5.0)(3500,-4.4)(3540,6.2)(3580,-3.1)
(3620,-4.8)(3660,3.9)(3700,-5.9)(3740,4.9)(3780,-3.5)(3820,6.4)(3860,-4.1)(3900,3.4)(3940,-6.1)(3980,5.7)
(4020,4.2)(4060,-3.7)(4100,6.0)(4140,-4.5)(4180,3.6)(4220,-5.1)(4260,4.8)(4300,-3.3)(4340,5.4)(4380,-6.4)
(4420,3.8)(4460,-4.3)(4500,5.2)(4540,-3.4)(4580,6.8)(4620,-5.6)(4660,4.1)(4700,7.5)(4740,-4.0)(4780,6.1)
(4820,-3.6)(4860,5.9)(4900,-4.9)(4940,3.5)(4980,-6.2)(5020,4.4)(5060,-3.2)(5100,5.6)(5140,-4.7)(5180,3.9)
(5220,6.2)(5260,-5.0)(5300,3.4)(5340,-4.1)(5380,5.3)(5420,-3.6)(5460,4.7)(5500,-6.0)(5540,3.5)(5580,-4.5)
(5620,5.8)(5660,-3.9)(5700,4.5)(5740,-5.3)(5780,3.7)};
\end{axis}
\end{tikzpicture}
\end{document}
